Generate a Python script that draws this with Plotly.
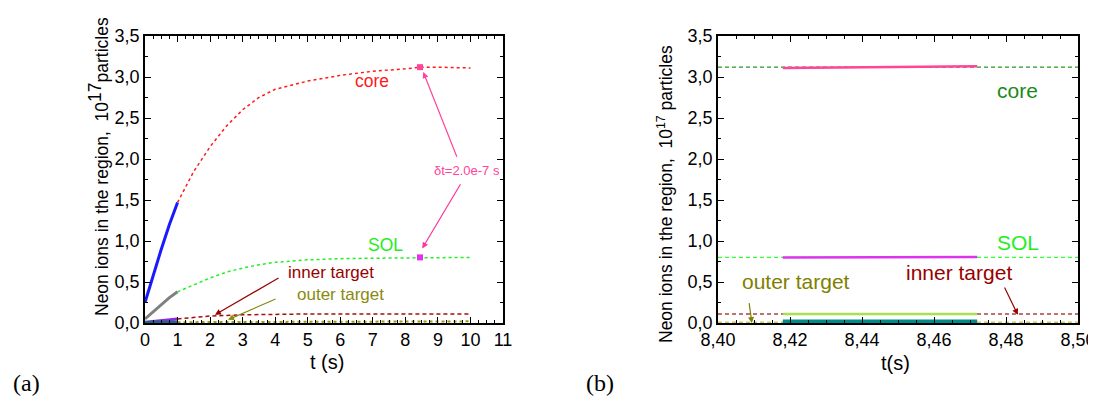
import plotly.graph_objects as go

# ---------------- data: panel (a) ----------------
t_early = [0.0, 0.25, 0.5, 0.75, 1.0]
core_early = [0.25, 0.58, 0.90, 1.20, 1.47]
sol_early = [0.05, 0.14, 0.23, 0.31, 0.38]
inner_early = [0.01, 0.02, 0.035, 0.045, 0.05]
outer_early = [0.005, 0.006, 0.008, 0.009, 0.01]

t_core = [1.0, 1.5, 2.0, 2.5, 3.0, 3.5, 4.0, 5.0, 6.0, 7.0, 8.0, 8.5, 9.0, 10.0]
core_late = [1.47, 1.85, 2.15, 2.40, 2.60, 2.75, 2.85, 2.95, 3.02, 3.07, 3.10, 3.12, 3.12, 3.11]
t_sol = [1.0, 1.5, 2.0, 2.5, 3.0, 3.5, 4.0, 5.0, 6.0, 7.0, 8.0, 9.0, 10.0]
sol_late = [0.38, 0.47, 0.55, 0.62, 0.67, 0.71, 0.74, 0.77, 0.785, 0.79, 0.795, 0.80, 0.80]
t_tg = [1.0, 1.5, 2.0, 3.0, 4.0, 5.0, 7.0, 10.0]
inner_late = [0.05, 0.07, 0.085, 0.10, 0.105, 0.11, 0.11, 0.11]
outer_late = [0.01, 0.011, 0.012, 0.015, 0.017, 0.018, 0.019, 0.02]
mark_t = [8.45]
mark_core = [3.12]
mark_sol = [0.80]

# ---------------- data: panel (b) ----------------
tb_full = [8.40, 8.50]
core_ref = [3.12, 3.12]
sol_ref = [0.80, 0.80]
inner_ref = [0.11, 0.11]
outer_ref = [0.01, 0.01]
tb_short = [8.418, 8.445, 8.472]
core_b = [3.11, 3.12, 3.13]
sol_b = [0.80, 0.80, 0.805]
inner_b = [0.11, 0.11, 0.11]
outer_b = [0.02, 0.02, 0.02]

OFF = 8  # page body margin
W, H = 1096 - OFF, 396 - OFF
def px(x):
    return (x - OFF) / W
def py(y):
    return 1 - (y - OFF) / H

fig = go.Figure()

def add(x, y, color, width, dash="solid", xa="x", ya="y"):
    fig.add_trace(go.Scatter(x=x, y=y, mode="lines", line=dict(color=color, width=width, dash=dash),
                             xaxis=xa, yaxis=ya, showlegend=False, hoverinfo="skip"))

SHORT = "4px,3px"
# panel a
add(t_core, core_late, "#ff1a1a", 1.5, "dot")
add(t_sol, sol_late, "#22ee22", 1.5, "dot")
add(t_tg, inner_late, "#a01010", 1.5, SHORT)
add(t_tg, outer_late, "#9a9a10", 2.0, "dot")
add(t_early, core_early, "#1a1aff", 3)
add(t_early, sol_early, "#808080", 3)
add(t_early, inner_early, "#8a2be2", 3)
add(t_early, outer_early, "#1a6b80", 3)
fig.add_trace(go.Scatter(x=mark_t, y=mark_core, mode="markers", marker=dict(symbol="square", size=6, color="#ff4499"),
                         xaxis="x", yaxis="y", showlegend=False, hoverinfo="skip"))
fig.add_trace(go.Scatter(x=mark_t, y=mark_sol, mode="markers", marker=dict(symbol="square", size=6, color="#dd33ee"),
                         xaxis="x", yaxis="y", showlegend=False, hoverinfo="skip"))

# panel b
add(tb_full, core_ref, "#229922", 1.4, SHORT, "x2", "y2")
add(tb_full, sol_ref, "#33ff33", 1.4, SHORT, "x2", "y2")
add(tb_full, inner_ref, "#b04040", 1.4, SHORT, "x2", "y2")
add(tb_full, outer_ref, "#cccc55", 1.6, SHORT, "x2", "y2")
add(tb_short, core_b, "#ff4499", 2.5, "solid", "x2", "y2")
add(tb_short, sol_b, "#dd33ee", 2.5, "solid", "x2", "y2")
add(tb_short, inner_b, "#aade55", 2.5, "solid", "x2", "y2")
add(tb_short, outer_b, "#008b8b", 3.5, "solid", "x2", "y2")

font = "Liberation Sans, Arial, sans-serif"
axis_common = dict(showline=True, linecolor="black", linewidth=1.5, mirror="allticks",
                   ticks="inside", ticklen=6, tickwidth=1.2, tickcolor="black", automargin=False,
                   showgrid=False, zeroline=False, tickfont=dict(family=font, size=18, color="black"))
minor = dict(ticks="inside", ticklen=3, tickcolor="black")

fig.update_layout(
    width=W, height=H, margin=dict(l=0, r=0, t=0, b=0),
    paper_bgcolor="white", plot_bgcolor="white",
    separators=",.",
    xaxis=dict(domain=[px(145), px(503)], range=[0, 11], dtick=1, tick0=0, anchor="y",
               minor=dict(dtick=0.25, **minor), **axis_common),
    yaxis=dict(domain=[py(323), py(36)], range=[0, 3.5], dtick=0.5, tickformat=".1f", anchor="x",
               minor=dict(dtick=0.25, **minor), **axis_common),
    xaxis2=dict(domain=[px(718), px(1078)], range=[8.40, 8.50], dtick=0.02, tick0=8.40, tickformat=".2f", anchor="y2",
                minor=dict(dtick=0.005, **minor), **axis_common),
    yaxis2=dict(domain=[py(323), py(36)], range=[0, 3.5], dtick=0.5, tickformat=".1f", anchor="x2",
                minor=dict(dtick=0.25, **minor), **axis_common),
)

def paper_text(text, x, y, size, angle=0, fam=font):
    fig.add_annotation(text=text, x=px(x), y=py(y), xref="paper", yref="paper", showarrow=False,
                       xanchor="center", yanchor="middle",
                       textangle=angle, font=dict(family=fam, size=size, color="black"))

# axis titles
paper_text("Neon ions in the region,  10<sup><span style='font-size:17.5px'>17</span></sup>particles", 98, 167, 17.5, -90)
paper_text("Neon ions in the region,  10<sup>17</sup> particles", 665, 194, 17.5, -90)
paper_text("t (s)", 327, 362, 20)
paper_text("t(s)", 895, 363, 20)
serif = "Liberation Serif, Times New Roman, serif"
paper_text("(a)", 26, 383, 24, fam=serif)
paper_text("(b)", 600, 383, 24, fam=serif)

def label(text, x, y, color, xref="x", yref="y", size=15):
    fig.add_annotation(text=text, x=x, y=y, xref=xref, yref=yref, showarrow=False,
                       xanchor="center", yanchor="middle",
                       font=dict(family=font, size=size, color=color))

def arrow(x, y, ax, ay, color, xref="x", yref="y"):
    fig.add_annotation(text="", x=x, y=y, ax=ax, ay=ay, xref=xref, yref=yref,
                       axref=xref, ayref=yref, showarrow=True, arrowhead=2, arrowsize=1,
                       arrowwidth=1.2, arrowcolor=color)

# panel a labels
label("core", 6.98, 2.95, "#ff1a1a", size=17.5)
label("SOL", 7.38, 0.95, "#22ee22", size=17.5)
label("inner target", 5.72, 0.61, "#990000", size=17)
label("outer target", 6.0, 0.35, "#8a8a10", size=17)
label("δt=2.0e-7 s", 9.88, 1.86, "#ff4499", size=13)
arrow(2.15, 0.10, 4.15, 0.56, "#990000")
arrow(2.55, 0.04, 4.06, 0.30, "#8a8a10")
arrow(8.55, 3.06, 9.6, 2.01, "#ff4499")
arrow(8.52, 0.91, 9.72, 1.71, "#ff3399")

# panel b labels
label("core", 8.4831, 2.84, "#1a8a1a", "x2", "y2", 21)
label("SOL", 8.4833, 0.98, "#22ee22", "x2", "y2", 21)
label("inner target", 8.4669, 0.62, "#990000", "x2", "y2", 21)
label("outer target", 8.4217, 0.51, "#808000", "x2", "y2", 21)
arrow(8.4833, 0.10, 8.4794, 0.45, "#990000", "x2", "y2")
arrow(8.4094, 0.0, 8.4086, 0.26, "#808000", "x2", "y2")

fig.write_html("out.html")
